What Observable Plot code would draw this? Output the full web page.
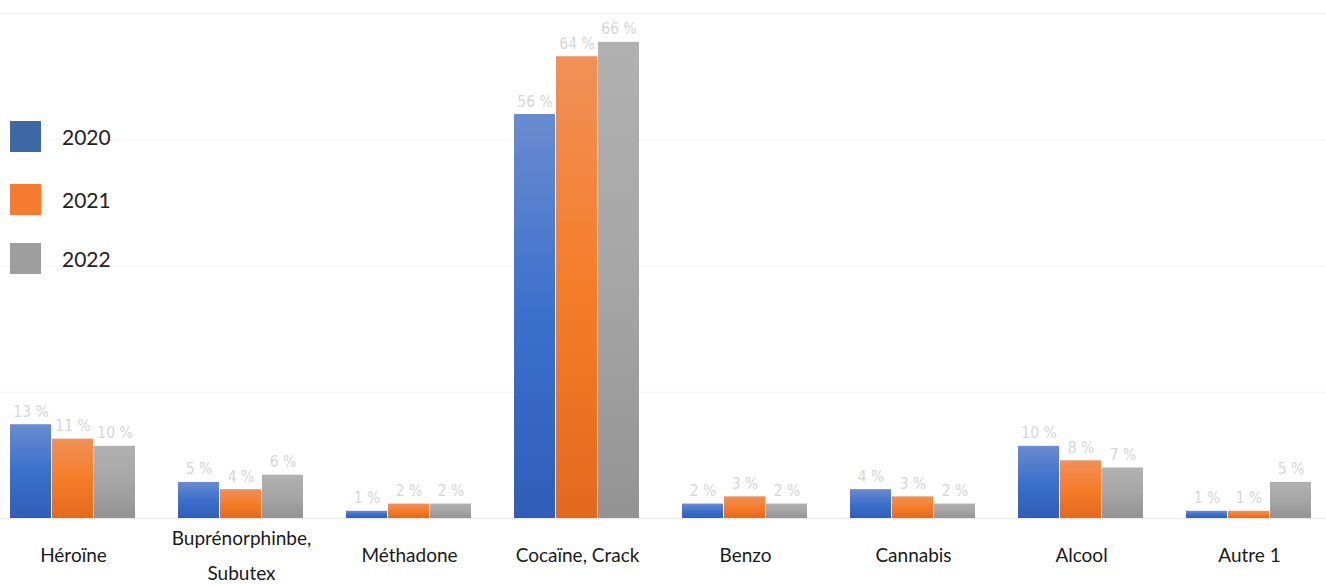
<!DOCTYPE html>
<html lang="fr">
<head>
<meta charset="utf-8">
<script src="https://cdn.jsdelivr.net/npm/d3@7"></script>
<script src="https://cdn.jsdelivr.net/npm/@observablehq/plot@0.6"></script>
<style>
  html, body { margin: 0; padding: 0; background: #fff; }
  #chart { position: relative; width: 1326px; height: 585px; overflow: hidden; }
  #legend { position: absolute; left: 10px; top: 0; font-family: Lato, "Noto Sans", sans-serif; }
  .item { position: absolute; left: 0; display: flex; align-items: center; white-space: nowrap; }
  .swatch { width: 31px; height: 31px; }
  .item span { margin-left: 21px; font-size: 21px; color: #222; }
</style>
</head>
<body>
<div id="chart"></div>
<script>
// Substances
const categories = ["Héroïne", "Buprénorphinbe, Subutex", "Méthadone", "Cocaïne, Crack", "Benzo", "Cannabis", "Alcool", "Autre 1"];
const years = ["2020", "2021", "2022"];
// Share (%) per year, in the order of the categories
const values2020 = [13, 5, 1, 56, 2, 4, 10, 1];
const values2021 = [11, 4, 2, 64, 3, 3, 8, 1];
const values2022 = [10, 6, 2, 66, 2, 2, 7, 5];
const gridTicks = [0, 17.5, 35, 52.5, 70];

const series = {"2020": values2020, "2021": values2021, "2022": values2022};
const rows = years.flatMap(year => categories.map((category, i) => ({category, year, value: series[year][i]})));

// Vertical gradients of each series (light top, saturated middle, darker bottom)
const gradients = {
  "2020": ["#6a8bd0", "#3b70cc", "#2f5eb8"],
  "2021": ["#f19058", "#f57d29", "#e3691d"],
  "2022": ["#b1b1b1", "#a6a6a6", "#939393"]
};
const legendColors = {"2020": "#3d69a5", "2021": "#f47b30", "2022": "#9e9e9e"};

const defs = () => {
  const d = d3.create("svg:defs");
  for (const y of years) {
    const g = d.append("linearGradient").attr("id", "grad" + y)
      .attr("x1", 0).attr("y1", 0).attr("x2", 0).attr("y2", 1);
    const [a, b, c] = gradients[y];
    g.append("stop").attr("offset", "0%").attr("stop-color", a);
    g.append("stop").attr("offset", "50%").attr("stop-color", b);
    g.append("stop").attr("offset", "100%").attr("stop-color", c);
  }
  return d.node();
};

// Facets tile the whole width (no gap between them) so that the grid rules
// drawn in every facet join into continuous lines; the gaps between the
// groups of bars come from the outer padding of the inner x scale.
const chart = Plot.plot({
  width: 1326,
  height: 585,
  marginTop: 13,
  marginBottom: 67,
  marginLeft: 0,
  marginRight: 0,
  style: {background: "#fff", overflow: "visible"},
  fx: {domain: categories, range: [-12.2, 1334.7], paddingInner: 0, paddingOuter: 0, label: null},
  x: {domain: years, paddingInner: 0.023, paddingOuter: 0.469, axis: null},
  y: {domain: [0, 70], axis: null},
  marks: [
    defs,
    Plot.ruleY(gridTicks.slice(1), {stroke: "#f3f3f3", strokeWidth: 1}),
    Plot.ruleY([0], {stroke: "#ececec", strokeWidth: 1.5}),
    ...years.map(year => Plot.barY(rows.filter(d => d.year === year), {
      fx: "category", x: "year", y: "value", fill: `url(#grad${year})`
    })),
    Plot.text(rows, {
      fx: "category", x: "year", y: "value",
      text: d => `${d.value} %`,
      lineAnchor: "bottom", dy: -8,
      fill: "#d6d6d6",
      fontSize: 15.5,
      fontFamily: "'Liberation Sans Narrow', 'DejaVu Sans Condensed', sans-serif"
    }),
    Plot.axisFx({
      anchor: "bottom",
      tickSize: 0,
      tickPadding: 33,
      fontSize: 19,
      lineHeight: 1.8,
      lineAnchor: "middle",
      fill: "#1a1a1a",
      fontFamily: "Lato, 'Noto Sans', sans-serif",
      tickFormat: d => d.replace("Buprénorphinbe, ", "Buprénorphinbe,\n"),
      label: null
    })
  ]
});

const root = document.getElementById("chart");
root.appendChild(chart);

// Legend on the left of the plot area
const legend = document.createElement("div");
legend.id = "legend";
const legendTops = [121, 184, 243];
years.forEach((y, i) => {
  const item = document.createElement("div");
  item.className = "item";
  item.style.top = legendTops[i] + "px";
  const sw = document.createElement("div");
  sw.className = "swatch";
  sw.style.background = legendColors[y];
  const label = document.createElement("span");
  label.textContent = y;
  item.append(sw, label);
  legend.appendChild(item);
});
root.appendChild(legend);
</script>
</body>
</html>
